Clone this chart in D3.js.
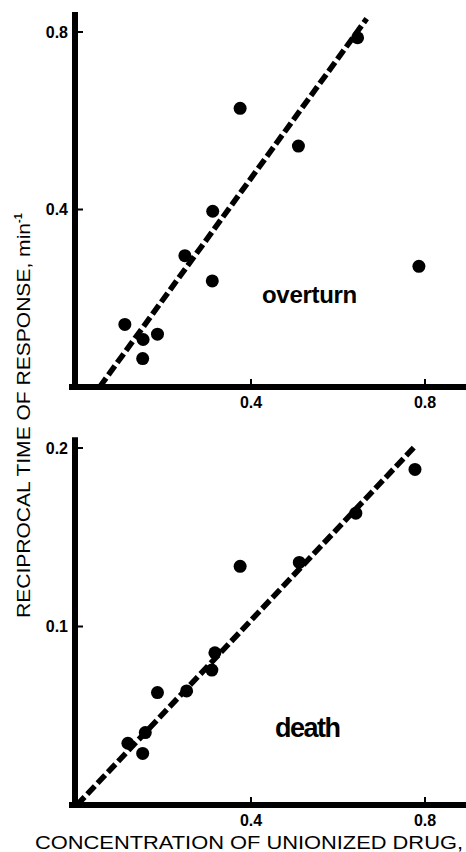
<!DOCTYPE html>
<html><head><meta charset="utf-8">
<script src="https://cdn.jsdelivr.net/npm/d3@7"></script>
<style>
html,body{margin:0;padding:0;background:#fff;}
svg{display:block;}
text{font-family:"Liberation Sans",Arial,Helvetica,sans-serif;fill:#000;}
</style></head>
<body>
<svg id="chart" width="466" height="852"></svg>
<script>
// ---- data ----
const overturnX = [0.110, 0.152, 0.185, 0.151, 0.248, 0.312, 0.311, 0.375, 0.509, 0.645, 0.786];
const overturnY = [0.141, 0.107, 0.119, 0.064, 0.296, 0.396, 0.239, 0.628, 0.543, 0.787, 0.272];
const overturnFitX = [0.052, 0.666];
const overturnFitY = [0.0, 0.830];

const deathX = [0.117, 0.151, 0.157, 0.185, 0.252, 0.310, 0.317, 0.375, 0.511, 0.641, 0.777];
const deathY = [0.0346, 0.0289, 0.0406, 0.063, 0.0639, 0.0756, 0.0853, 0.1337, 0.1359, 0.1635, 0.188];
const deathFitX = [0.0, 0.78];
const deathFitY = [0.0, 0.2017];

const xTicks = [0.4, 0.8];
const xTickLabels = ["0.4", "0.8"];
const overturnYTicks = [0.4, 0.8];
const overturnYTickLabels = ["0.4", "0.8"];
const deathYTicks = [0.1, 0.2];
const deathYTickLabels = ["0.1", "0.2"];

const yTitle = "RECIPROCAL TIME OF RESPONSE, min";
const xTitle = "CONCENTRATION OF UNIONIZED DRUG,";

// ---- drawing ----
const svg = d3.select("#chart");
const x = d3.scaleLinear().domain([0, 0.8]).range([77, 425]);

function panel(cfg) {
  const y = d3.scaleLinear().domain([0, cfg.yTop]).range([cfg.y0, cfg.yTopPx]);
  const g = svg.append("g");
  // axes
  g.append("line").attr("x1", x(0) - 2).attr("x2", x(0) - 2)
    .attr("y1", y(0) + 3).attr("y2", y(cfg.yAxisMax))
    .attr("stroke", "#000").attr("stroke-width", 6);
  g.append("line").attr("x1", x(0) - 8).attr("x2", x(0.9))
    .attr("y1", y(0)).attr("y2", y(0))
    .attr("stroke", "#000").attr("stroke-width", 6);
  // x ticks
  xTicks.forEach((t, i) => {
    g.append("line").attr("x1", x(t)).attr("x2", x(t))
      .attr("y1", y(0)).attr("y2", y(0) - 8)
      .attr("stroke", "#000").attr("stroke-width", 2);
    g.append("text").attr("x", x(t)).attr("y", y(0) + 21)
      .attr("text-anchor", "middle").attr("font-size", 16).attr("font-weight", "bold")
      .attr("font-family", "DejaVu Sans")
      .text(xTickLabels[i]);
  });
  // y ticks
  cfg.yTicks.forEach((t, i) => {
    g.append("line").attr("x1", x(0)).attr("x2", x(0) + 6)
      .attr("y1", y(t)).attr("y2", y(t))
      .attr("stroke", "#000").attr("stroke-width", 2);
    g.append("text").attr("x", 68).attr("y", y(t) + 5.5)
      .attr("text-anchor", "end").attr("font-size", 16).attr("font-weight", "bold")
      .attr("font-family", "DejaVu Sans")
      .text(cfg.yTickLabels[i]);
  });
  // fit line
  const fit = cfg.fitX.map((v, i) => [v, cfg.fitY[i]]);
  g.append("path")
    .attr("d", d3.line().x(d => x(d[0])).y(d => y(d[1]))(fit))
    .attr("fill", "none").attr("stroke", "#000").attr("stroke-width", 5.5)
    .attr("stroke-dasharray", "11,4");
  // points
  const pts = cfg.px.map((v, i) => [v, cfg.py[i]]);
  g.selectAll("circle.pt").data(pts).enter().append("circle")
    .attr("cx", d => x(d[0])).attr("cy", d => y(d[1])).attr("r", 6.5)
    .attr("fill", "#000");
  // label
  g.append("text").attr("x", cfg.labelX).attr("y", cfg.labelY)
    .attr("font-family", "DejaVu Sans").attr("font-weight", "bold")
    .attr("font-size", cfg.labelSize).attr("letter-spacing", cfg.labelSpacing)
    .text(cfg.label);
}

panel({ yTop: 0.8, y0: 387, yTopPx: 32, yAxisMax: 0.845,
  yTicks: overturnYTicks, yTickLabels: overturnYTickLabels,
  fitX: overturnFitX, fitY: overturnFitY, px: overturnX, py: overturnY,
  label: "overturn", labelX: 262, labelY: 303, labelSize: 24, labelSpacing: -0.3 });

panel({ yTop: 0.2, y0: 805, yTopPx: 448, yAxisMax: 0.206,
  yTicks: deathYTicks, yTickLabels: deathYTickLabels,
  fitX: deathFitX, fitY: deathFitY, px: deathX, py: deathY,
  label: "death", labelX: 275, labelY: 737, labelSize: 27, labelSpacing: -1.5 });

// axis titles
const yt = svg.append("text")
  .attr("transform", "translate(30,618) rotate(-90)")
  .attr("font-size", 18);
yt.append("tspan").attr("textLength", 395).attr("lengthAdjust", "spacingAndGlyphs").text(yTitle);
yt.append("tspan").attr("dy", -8).attr("font-size", 11).attr("font-weight", "bold").text("-1");

svg.append("text").attr("x", 35).attr("y", 849)
  .attr("font-size", 19).attr("textLength", 428).attr("lengthAdjust", "spacingAndGlyphs")
  .text(xTitle);
</script>
</body></html>
